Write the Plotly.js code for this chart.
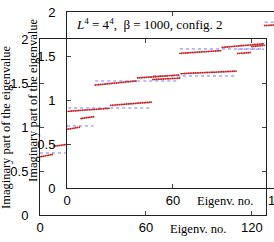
<!DOCTYPE html>
<html>
<head>
<meta charset="utf-8">
<script src="https://cdn.plot.ly/plotly-3.0.1.min.js"></script>
<style>
html,body{margin:0;padding:0;overflow:hidden;background:#fff;width:274px;height:242px;}
#chart{width:300px;height:242px;}
</style>
</head>
<body>
<div id="chart"></div>
<script>
// Free-field (blue dotted) levels and their multiplicities
const freeLevels = [0.705, 1.216, 1.58, 1.885];
const freeCounts = [16, 48, 48, 16];

// Sorted imaginary parts, first configuration (back panel)
const imagConfA = [
  0.662,0.665,0.668,0.672,0.676,0.680,0.684,0.688,
  0.782,0.785,0.787,0.790,0.793,0.796,0.798,0.801,
  1.178,1.180,1.181,1.183,1.184,1.186,1.187,1.189,1.190,1.192,1.193,1.195,1.196,1.198,1.199,1.200,1.202,1.203,1.205,1.206,1.207,1.209,1.210,1.212,
  1.246,1.248,1.249,1.251,1.253,1.254,1.256,1.257,1.259,1.261,1.262,1.264,1.265,1.267,1.268,1.270,1.272,1.273,1.275,1.276,1.278,1.279,1.281,1.283,
  1.540,1.541,1.542,1.543,1.544,1.545,1.546,1.547,1.548,1.549,1.550,1.551,1.552,1.553,1.554,1.556,
  1.606,1.607,1.608,1.609,1.610,1.611,1.612,1.613,1.614,1.614,1.615,1.616,1.617,1.618,1.619,1.620,1.621,1.622,1.623,1.623,1.624,1.625,1.626,1.627,1.628,1.629,1.630,1.631,1.632,1.633,1.634,1.635,
  1.836,1.837,1.839,1.840,1.841,1.843,1.844,1.846,
  1.914,1.916,1.918,1.920,1.922,1.924,1.926,1.928
];

// Sorted imaginary parts, config. 2 (front panel)
const imagConfB = [
  0.668,0.671,0.674,0.677,0.680,0.684,0.687,0.691,
  0.789,0.792,0.795,0.798,0.801,0.804,0.807,0.810,
  1.170,1.172,1.174,1.176,1.178,1.180,1.182,1.184,1.186,1.188,1.190,1.192,1.194,1.196,1.198,1.200,1.202,1.204,1.206,1.208,1.210,1.212,1.214,1.216,
  1.250,1.252,1.253,1.255,1.256,1.258,1.259,1.261,1.262,1.264,1.265,1.267,1.268,1.270,1.271,1.273,1.274,1.276,1.277,1.279,1.280,1.282,1.283,1.285,
  1.530,1.531,1.533,1.534,1.535,1.537,1.538,1.539,1.541,1.542,1.543,1.545,1.546,1.547,1.549,1.550,1.551,1.553,1.554,1.555,1.557,1.558,1.559,1.561,
  1.598,1.600,1.602,1.603,1.605,1.607,1.609,1.610,1.612,1.614,1.616,1.617,1.619,1.621,1.623,1.624,1.626,1.628,1.630,1.631,1.633,1.635,1.637,1.639,
  1.846,1.847,1.848,1.850,1.851,1.852,1.854,1.855,
  1.905,1.907,1.909,1.911,1.913,1.915,1.917,1.919
];

const xTickVals = [0, 60, 120];
const xTitle = "Eigenv. no.";
const yTitle = "Imaginary part of the eigenvalue";
const labelText = "<i>L</i><sup>4</sup> = 4<sup>4</sup>,  β = 1000, config. 2";

const W = 300, H = 242;
const idx = imagConfA.map((_, i) => i);

// build blue dotted free-level segments
const fx = [], fy = [];
let start = 0;
freeCounts.forEach((c, k) => {
  fx.push(start, start + c - 1, null);
  fy.push(freeLevels[k], freeLevels[k], null);
  start += c;
});

const red = '#c02222';
const blue = '#7878ff';

function traces(xa, ya, vals) {
  return [
    {x: fx, y: fy, xaxis: xa, yaxis: ya, mode: 'lines', line: {color: blue, width: 1, dash: 'dot'}, hoverinfo: 'skip', showlegend: false},
    {x: idx, y: vals, xaxis: xa, yaxis: ya, mode: 'markers', marker: {color: red, size: 1.9, line: {width: 0}}, showlegend: false}
  ];
}

const data = [...traces('x', 'y', imagConfA), ...traces('x2', 'y2', imagConfB)];

const tickFont = {family: 'Liberation Sans, Arial, sans-serif', size: 13, color: '#000'};
function xax(dom, anchor) {
  return {domain: dom, anchor: anchor, range: [0, 128], tickvals: xTickVals, ticks: 'inside', ticklen: 4,
    showline: true, linecolor: '#222', linewidth: 1, mirror: 'ticks', showgrid: false, zeroline: false,
    tickfont: tickFont, automargin: false, fixedrange: true};
}
function yax(dom, anchor) {
  return {domain: dom, anchor: anchor, range: [0, 2], dtick: 0.5, ticks: 'inside', ticklen: 4,
    showline: true, linecolor: '#222', linewidth: 1, mirror: 'ticks', showgrid: false, zeroline: false,
    tickfont: tickFont, automargin: false, fixedrange: true, ticklabelstandoff: 8};
}

const serif = {family: 'Liberation Serif, Times New Roman, serif', size: 12.5, color: '#000'};
const px = v => v / W, py = v => 1 - v / H;

const layout = {
  width: W, height: H,
  margin: {l: 0, r: 0, t: 0, b: 0},
  paper_bgcolor: '#fff', plot_bgcolor: 'rgba(0,0,0,0)',
  showlegend: false,
  xaxis: xax([40 / W, 266 / W], 'y'),
  yaxis: yax([27 / H, 203 / H], 'x'),
  xaxis2: xax([67 / W, 293 / W], 'y2'),
  yaxis2: yax([54 / H, 230 / H], 'x2'),
  annotations: [
    {text: labelText, xref: 'paper', yref: 'paper', x: px(149), y: py(24), xanchor: 'center', yanchor: 'middle', showarrow: false, font: {family: serif.family, size: 13, color: '#000'}},
    {text: yTitle, xref: 'paper', yref: 'paper', x: px(6), y: py(127), xanchor: 'center', yanchor: 'middle', textangle: -90, showarrow: false, font: serif},
    {text: yTitle, xref: 'paper', yref: 'paper', x: px(33), y: py(100), xanchor: 'center', yanchor: 'middle', textangle: -90, showarrow: false, font: serif},
    {text: xTitle, xref: 'paper', yref: 'paper', x: px(198), y: py(229), xanchor: 'center', yanchor: 'middle', showarrow: false, font: serif},
    {text: xTitle, xref: 'paper', yref: 'paper', x: px(225), y: py(201), xanchor: 'center', yanchor: 'middle', showarrow: false, font: serif}
  ]
};

Plotly.newPlot('chart', data, layout, {staticPlot: true, displayModeBar: false, responsive: false});
</script>
</body>
</html>
